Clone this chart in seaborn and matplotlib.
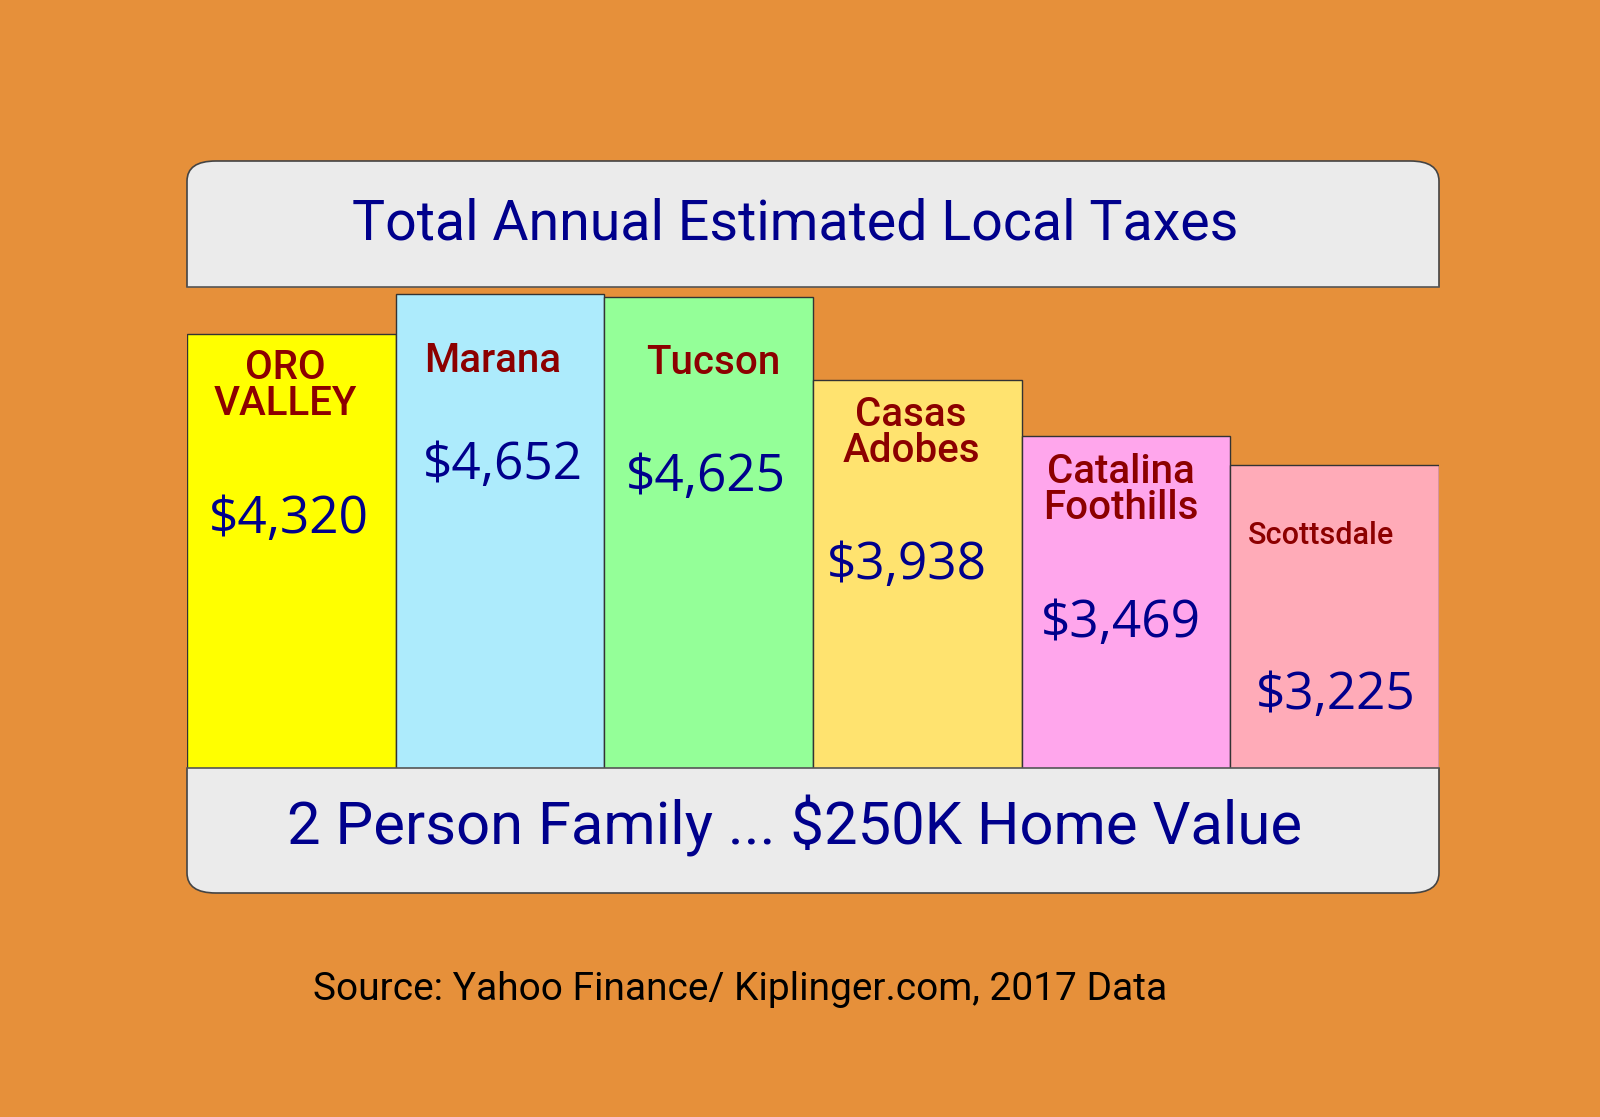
import numpy as np
import pandas as pd
import seaborn as sns
import matplotlib.pyplot as plt
from matplotlib.patches import FancyBboxPatch, Rectangle

# data
cities = ["ORO\nVALLEY", "Marana", "Tucson", "Casas\nAdobes", "Catalina\nFoothills", "Scottsdale"]
taxes = [4320, 4652, 4625, 3938, 3469, 3225]
bar_colors = ["#FFFF00", "#ADEBFC", "#94FF98", "#FFE36F", "#FFA6EC", "#FFABB8"]

title = "Total Annual Estimated Local Taxes"
subtitle = "2 Person Family ... $250K Home Value"
source = "Source: Yahoo Finance/ Kiplinger.com, 2017 Data"

# layout (pixels in the 1600x1117 image)
W, H = 1600, 1117
BG = "#E6903A"
BOX = "#EBEBEB"
NAVY = "#00008C"
RED = "#8C0000"
hand = ["Roboto", "DejaVu Sans"]

name_pos = [(285, 386), (493, 361), (713, 363), (911, 433), (1121, 490), (1321, 535)]
name_size = [29, 29, 29, 29, 29, 22]
value_pos = [(289, 520), (503, 465), (706, 478), (907, 566), (1121, 624), (1336, 696)]


def fx(x):
    return x / W


def fy(y):
    return 1 - y / H


sns.set_style("white")
fig = plt.figure(figsize=(16, 11.17), dpi=100, facecolor=BG)

left, right, top, bottom = 187, 1439, 287, 768

# grey title box (top corners rounded) and footer box (bottom corners rounded)
for y0, y1, clip in [(161, top + 40, (150, top)), (bottom - 40, 893, (bottom, 900))]:
    box = FancyBboxPatch((fx(left), fy(y1)), fx(right) - fx(left), (y1 - y0) / H,
                         boxstyle="round,pad=0,rounding_size=0.018",
                         transform=fig.transFigure, facecolor=BOX,
                         edgecolor="#444444", linewidth=1.2, zorder=1)
    fig.add_artist(box)
    clip_rect = Rectangle((fx(left) - 0.01, fy(clip[1])), fx(right) - fx(left) + 0.02,
                          (clip[1] - clip[0]) / H, transform=fig.transFigure)
    box.set_clip_path(clip_rect)

ax = fig.add_axes([fx(left), fy(bottom), fx(right) - fx(left), (bottom - top) / H])
ax.set_zorder(2)
df = pd.DataFrame({"city": cities, "tax": taxes})
sns.barplot(data=df, x="city", y="tax", hue="city", palette=bar_colors, saturation=1,
            width=1.0, edgecolor="#333333", linewidth=1, legend=False, ax=ax)
ax.set_xlim(-0.5, 5.5)
ax.set_ylim(704, 4712)
ax.set_facecolor("none")
ax.set_xticks([])
ax.set_yticks([])
ax.set_xlabel("")
ax.set_ylabel("")
for side in ["left", "right"]:
    ax.spines[side].set_visible(False)
for side in ["top", "bottom"]:
    ax.spines[side].set_color("#555555")
    ax.spines[side].set_linewidth(1.2)

for i, (name, val) in enumerate(zip(cities, taxes)):
    nx, ny = name_pos[i]
    fig.text(fx(nx), fy(ny), name, ha="center", va="center", color=RED,
             fontsize=name_size[i], family=hand, fontweight="medium",
             linespacing=0.95, zorder=5)
    vx, vy = value_pos[i]
    fig.text(fx(vx), fy(vy), "${:,}".format(val), ha="center", va="center",
             color=NAVY, fontsize=37, family=["Open Sans", "DejaVu Sans"], zorder=5)

fig.text(fx(795), fy(224), title, ha="center", va="center", color=NAVY,
         fontsize=40, family=hand, zorder=5)
fig.text(fx(795), fy(826), subtitle, ha="center", va="center", color=NAVY,
         fontsize=43, family=hand, zorder=5)
fig.text(fx(740), fy(989), source, ha="center", va="center", color="black",
         fontsize=28, family=hand)

fig.savefig("out.png", dpi=100, facecolor=BG)
